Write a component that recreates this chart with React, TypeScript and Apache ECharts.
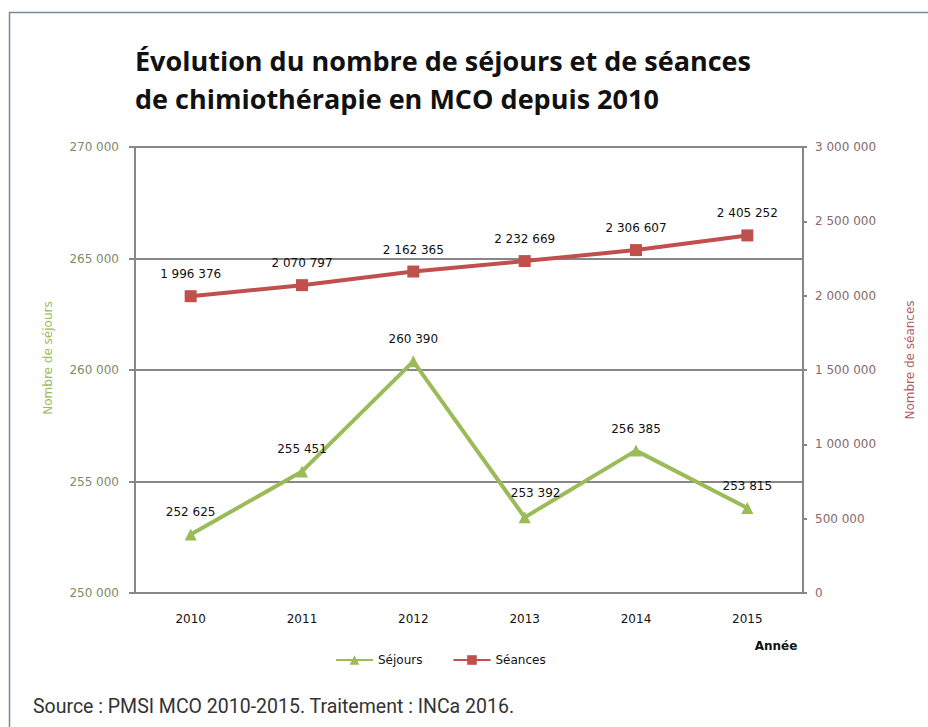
import React, { useEffect, useRef } from "react";
import * as echarts from "echarts";

const years = ["2010", "2011", "2012", "2013", "2014", "2015"];
const sejours = [252625, 255451, 260390, 253392, 256385, 253815];
const seances = [1996376, 2070797, 2162365, 2232669, 2306607, 2405252];

const titleText = "Évolution du nombre de séjours et de séances\nde chimiothérapie en MCO depuis 2010";
const sourceText = "Source : PMSI MCO 2010-2015. Traitement : INCa 2016.";

const fmt = (v: number) => String(v).replace(/\B(?=(\d{3})+(?!\d))/g, " ");

const GREEN = "#9BBB59";
const RED = "#C0504D";
const GRID = "#878787";

export default function App() {
  const ref = useRef<HTMLDivElement>(null);
  useEffect(() => {
    document.body.style.margin = "0";
    const chart = echarts.init(ref.current!, undefined, { renderer: "svg" });
    const labelBase = {
      show: true,
      position: "top",
      distance: 10,
      fontFamily: "DejaVu Sans",
      fontSize: 12,
      color: "#111",
      formatter: (p: any) => fmt(p.value),
    };
    chart.setOption({
      animation: false,
      backgroundColor: "#ffffff",
      title: {
        text: titleText,
        left: 130,
        top: 36,
        textStyle: {
          fontFamily: "Open Sans",
          fontWeight: "bold",
          fontSize: 27,
          lineHeight: 38,
          color: "#111",
        },
      },
      grid: { left: 135, right: 125, top: 147, bottom: 134 },
      legend: {
        left: 330,
        top: 649,
        itemWidth: 37,
        itemHeight: 12,
        itemGap: 30,
        textStyle: { fontFamily: "DejaVu Sans", fontSize: 12, color: "#111" },
        data: ["Séjours", "Séances"],
      },
      xAxis: {
        type: "category",
        data: years,
        boundaryGap: true,
        axisLine: { lineStyle: { color: GRID, width: 2 } },
        axisTick: { show: false },
        axisLabel: {
          margin: 20,
          fontFamily: "DejaVu Sans",
          fontSize: 12,
          color: "#111",
        },
      },
      yAxis: [
        {
          type: "value",
          min: 250000,
          max: 270000,
          interval: 5000,
          position: "left",
          axisLine: { show: true, lineStyle: { color: GRID, width: 2 } },
          axisTick: { show: true, length: 6, lineStyle: { color: GRID, width: 2 } },
          splitLine: { show: true, lineStyle: { color: GRID, width: 2 } },
          axisLabel: {
            margin: 16,
            fontFamily: "DejaVu Sans",
            fontSize: 12,
            color: "#7f8a68",
            formatter: (v: number) => fmt(v),
          },
        },
        {
          type: "value",
          min: 0,
          max: 3000000,
          interval: 500000,
          position: "right",
          axisLine: { show: true, lineStyle: { color: GRID, width: 2 } },
          axisTick: { show: true, length: 4, lineStyle: { color: GRID, width: 2 } },
          splitLine: { show: false },
          axisLabel: {
            margin: 12,
            fontFamily: "DejaVu Sans",
            fontSize: 12,
            color: "#876a6a",
            formatter: (v: number) => fmt(v),
          },
        },
      ],
      series: [
        {
          name: "Séjours",
          type: "line",
          yAxisIndex: 0,
          data: sejours.map((v, i) =>
            i === 3 ? { value: v, label: { offset: [11, -2] } } : v
          ),
          symbol: "triangle",
          symbolSize: 12,
          itemStyle: { color: GREEN },
          lineStyle: { color: GREEN, width: 4 },
          label: labelBase,
        },
        {
          name: "Séances",
          type: "line",
          yAxisIndex: 1,
          data: seances,
          symbol: "rect",
          symbolSize: 12,
          itemStyle: { color: RED },
          lineStyle: { color: RED, width: 4 },
          label: labelBase,
        },
      ],
      graphic: [
        {
          type: "polyline",
          shape: { points: [[9.5, 727], [9.5, 12.5], [928, 12.5]] },
          style: { stroke: "#7b8698", lineWidth: 1.5, fill: "none" },
          silent: true,
        },
        {
          type: "text",
          x: 48,
          y: 358,
          rotation: Math.PI / 2,
          style: {
            text: "Nombre de séjours",
            fontFamily: "DejaVu Sans",
            fontSize: 12,
            fill: GREEN,
            align: "center",
            verticalAlign: "middle",
          },
        },
        {
          type: "text",
          x: 910,
          y: 360,
          rotation: Math.PI / 2,
          style: {
            text: "Nombre de séances",
            fontFamily: "DejaVu Sans",
            fontSize: 12,
            fill: "#b0605d",
            align: "center",
            verticalAlign: "middle",
          },
        },
        {
          type: "text",
          x: 776,
          y: 646,
          style: {
            text: "Année",
            fontFamily: "DejaVu Sans",
            fontWeight: "bold",
            fontSize: 12,
            fill: "#111",
            align: "center",
            verticalAlign: "middle",
          },
        },
        {
          type: "text",
          x: 33,
          y: 706,
          style: {
            text: sourceText,
            fontFamily: "Roboto",
            fontSize: 19.5,
            fill: "#333",
            align: "left",
            verticalAlign: "middle",
          },
        },
      ],
    });
    return () => chart.dispose();
  }, []);
  return <div ref={ref} style={{ width: 928, height: 727 }} />;
}
